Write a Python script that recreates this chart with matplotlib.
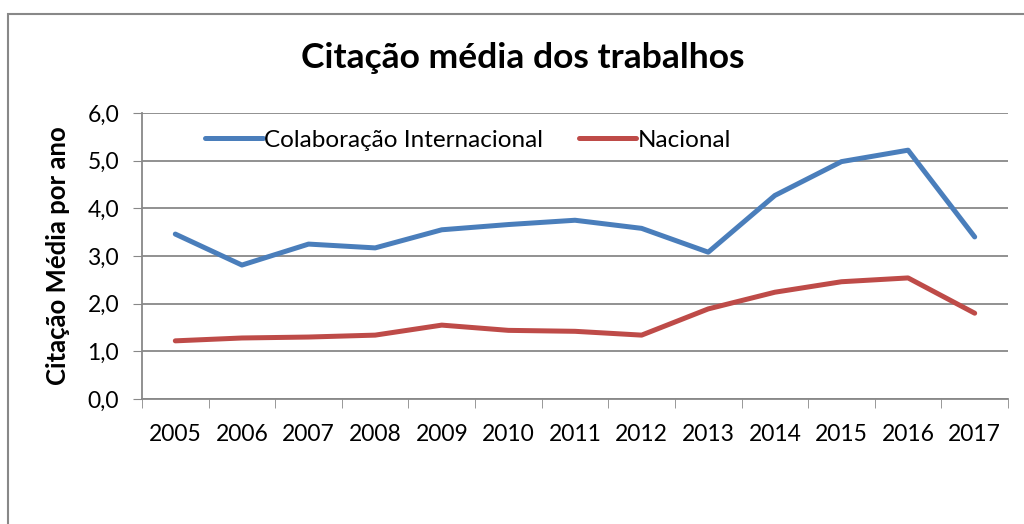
import matplotlib.pyplot as plt
from matplotlib.patches import Rectangle

years = ["2005", "2006", "2007", "2008", "2009", "2010", "2011",
         "2012", "2013", "2014", "2015", "2016", "2017"]
internacional = [3.46, 2.81, 3.25, 3.17, 3.55, 3.66, 3.75, 3.58, 3.08, 4.27, 4.98, 5.22, 3.40]
nacional = [1.22, 1.28, 1.30, 1.34, 1.55, 1.44, 1.42, 1.34, 1.89, 2.24, 2.46, 2.54, 1.80]
yticks = [0, 1, 2, 3, 4, 5, 6]

plt.rcParams['font.family'] = ['Lato', 'DejaVu Sans']

fig = plt.figure(figsize=(10.24, 5.24), dpi=100)
# outer chart frame (Excel style)
fig.patches.append(Rectangle((8 / 1024, -0.1), 1.2, 1 - 14 / 524 + 0.1,
                             transform=fig.transFigure, fill=False,
                             edgecolor='#888888', linewidth=1.5))

ax = fig.add_axes([142 / 1024, 125 / 524, 866 / 1024, 286 / 524])
x = list(range(len(years)))
ax.plot(x, internacional, color='#4A7EBB', linewidth=3.6,
        solid_capstyle='round', label='Colaboração Internacional')
ax.plot(x, nacional, color='#BE4B48', linewidth=3.6,
        solid_capstyle='round', label='Nacional')

ax.set_xlim(-0.5, len(years) - 0.5)
ax.set_ylim(0, 6)
ax.set_yticks(yticks)
ax.set_yticklabels([f"{v:.1f}".replace('.', ',') for v in yticks], fontsize=16.5)
ax.set_xticks(x)
ax.set_xticklabels(years, fontsize=16.5)
ax.set_xticks([i - 0.5 for i in range(len(years) + 1)], minor=True)
ax.tick_params(axis='x', which='major', length=0, pad=18)
ax.tick_params(axis='x', which='minor', length=6.5, color='#888888', direction='out')
ax.tick_params(axis='y', length=6.5, color='#888888', direction='out', pad=10)

ax.grid(axis='y', color='#888888', linewidth=1.3)
ax.set_axisbelow(True)
for s in ['top', 'right']:
    ax.spines[s].set_visible(False)
for s in ['left', 'bottom']:
    ax.spines[s].set_color('#888888')
    ax.spines[s].set_linewidth(1.3)

ax.set_ylabel('Citação Média por ano', fontsize=18.5, fontweight='bold')
ax.yaxis.set_label_coords(-72 / 866, 0.5)
fig.text(523 / 1024, 1 - 58 / 524, 'Citação média dos trabalhos', ha='center',
         va='center', fontsize=25.5, fontweight='bold')

leg = ax.legend(loc='center left', bbox_to_anchor=(186 / 1024, 1 - 140 / 524),
                bbox_transform=fig.transFigure, ncol=2, frameon=True,
                fontsize=17.5, handlelength=2.35, handletextpad=0.05,
                columnspacing=1.5, borderpad=0.3, fancybox=False)
leg.get_frame().set_edgecolor('none')
leg.get_frame().set_facecolor('white')
leg.get_frame().set_alpha(1)

fig.savefig('out.png', dpi=100)
